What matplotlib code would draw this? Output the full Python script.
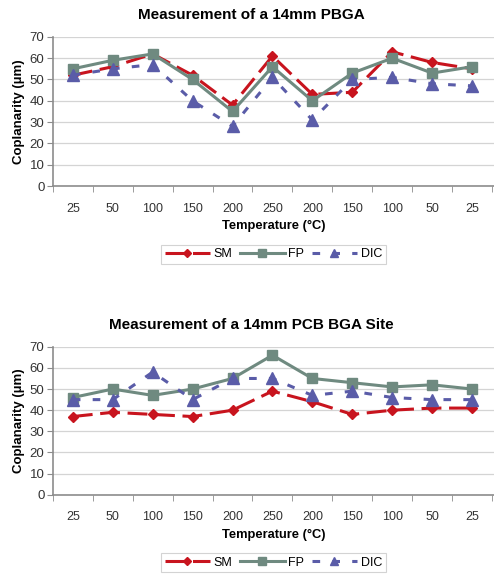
import numpy as np
import matplotlib
matplotlib.use('Agg')
from matplotlib import pyplot as plt

plt.rcParams['font.family'] = ['Liberation Sans', 'DejaVu Sans']

temps = ['25', '50', '100', '150', '200', '250', '200', '150', '100', '50', '25']

# PBGA package
pbga_sm = [52, 56, 62, 52, 38, 61, 43, 44, 63, 58, 55]
pbga_fp = [55, 59, 62, 50, 35, 56, 40, 53, 60, 53, 56]
pbga_dic = [52, 55, 57, 40, 28, 51, 31, 50, 51, 48, 47]

# PCB BGA site
pcb_sm = [37, 39, 38, 37, 40, 49, 44, 38, 40, 41, 41]
pcb_fp = [46, 50, 47, 50, 55, 66, 55, 53, 51, 52, 50]
pcb_dic = [45, 45, 58, 45, 55, 55, 47, 49, 46, 45, 45]

red = '#C8141E'
green = '#6F8A80'
blue = '#5A5CA8'
gray = '#8C8C8C'


def draw_panel(ax, title, sm, fp, dic):
    x = np.arange(len(temps))
    ax.plot(x, sm, color=red, lw=2.2, dashes=(6.5, 2.5), marker='D', ms=5,
            mec=red, mfc=red, label='SM', zorder=3)
    ax.plot(x, fp, color=green, lw=2.2, marker='s', ms=7.5,
            mec=green, mfc=green, label='FP', zorder=4)
    ax.plot(x, dic, color=blue, lw=2.2, dashes=(2.5, 4), marker='^', ms=8,
            mec=blue, mfc=blue, label='DIC', zorder=5)

    ax.set_xlim(-0.5, 10.55)
    ax.set_ylim(0, 70)
    ax.set_yticks(range(0, 71, 10))
    ax.set_xticks(x)
    ax.set_xticklabels(temps)
    ax.set_xticks(np.arange(-0.5, 11, 1), minor=True)
    ax.tick_params(axis='x', which='major', length=0, pad=12,
                   labelsize=9, labelcolor='#333333')
    ax.tick_params(axis='x', which='minor', length=4, color=gray, direction='out')
    ax.tick_params(axis='y', length=4, color=gray, labelsize=9.5,
                   labelcolor='#333333', pad=2)
    ax.grid(axis='y', color='#D4D4D4', lw=0.9)
    ax.set_axisbelow(True)
    for side in ['top', 'right']:
        ax.spines[side].set_visible(False)
    for side in ['left', 'bottom']:
        ax.spines[side].set_color(gray)
        ax.spines[side].set_linewidth(1.2)

    ax.set_title(title, fontsize=11, fontweight='bold', pad=13, x=0.45)
    ax.set_ylabel('Coplanarity (µm)', fontsize=9.5, fontweight='bold', labelpad=3)
    ax.set_xlabel('Temperature (°C)', fontsize=9.3, fontweight='bold', labelpad=4)
    leg = ax.legend(loc='upper center', bbox_to_anchor=(0.5, -0.35), ncol=3,
                    fontsize=9, frameon=True, fancybox=False, markerscale=0.8,
                    handlelength=3.6, handletextpad=0.3, columnspacing=0.6,
                    borderpad=0.3)
    leg.get_frame().set_edgecolor('#C8C8C8')
    leg.get_frame().set_linewidth(0.8)


fig = plt.figure(figsize=(4.94, 5.76), dpi=100)
ax1 = fig.add_axes([0.107, 0.677, 0.893, 0.259])
ax2 = fig.add_axes([0.107, 0.141, 0.893, 0.257])

draw_panel(ax1, 'Measurement of a 14mm PBGA', pbga_sm, pbga_fp, pbga_dic)
draw_panel(ax2, 'Measurement of a 14mm PCB BGA Site', pcb_sm, pcb_fp, pcb_dic)

fig.savefig('out.png', dpi=100)
